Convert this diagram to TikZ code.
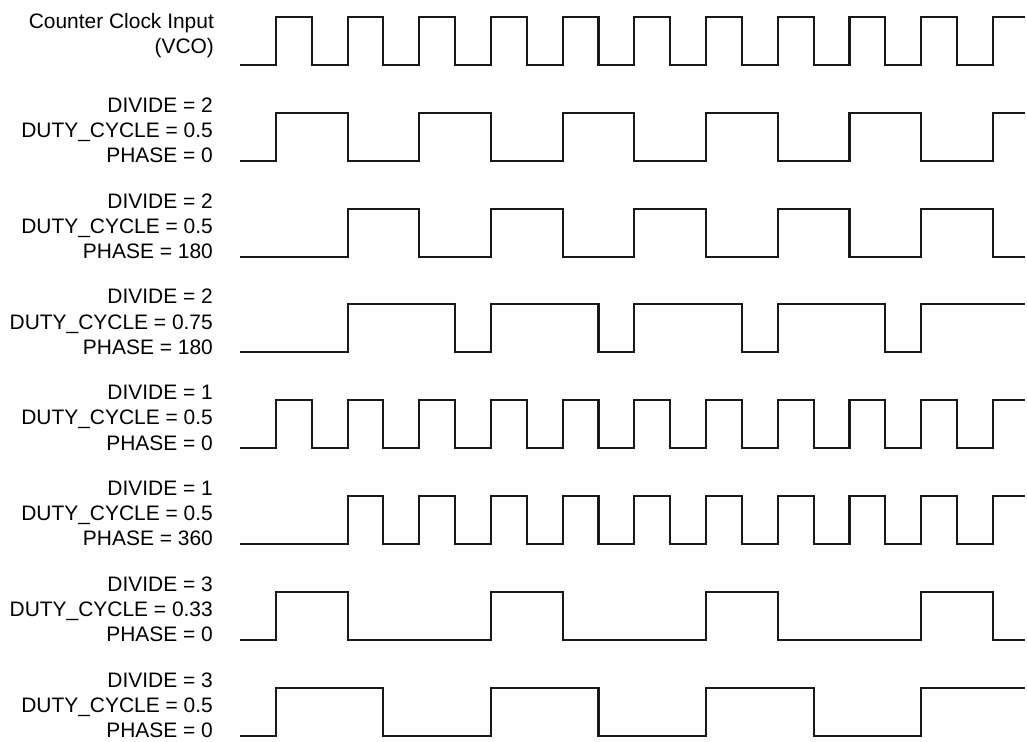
\documentclass[tikz,border=0pt]{standalone}
\usepackage{fontspec}
\setmainfont{Liberation Sans}
\tikzset{
  wave/.style={draw=black!90, line width=1.5pt, line join=miter},
  siglabel/.style={anchor=base east, align=right, inner sep=0pt,
                   font=\fontsize{14.9}{17.9}\selectfont},
  row/.style={x=0.8963cm, y=1.2cm, shift={(6cm,#1)}},
}
\begin{document}
\begin{tikzpicture}

\useasboundingbox (0,0) rectangle (25.675,18.55);

% Counter clock input
\begin{scope}[row=16.925cm]
\node[siglabel] (vco) at (-0.72,0.23) {Counter Clock Input\\(VCO)};
\draw[wave] (0,0) \foreach \k in {1,3,...,19} { -| (\k,1) -| ({\k+1},0) } -| (21,1) -- (21.9,1);
\end{scope}

% Divide by 2
\begin{scope}[row=14.53cm]
\node[siglabel] (dtwo) at (-0.75,-0.04) {DIVIDE = 2\\DUTY\_CYCLE = 0.5\\PHASE = 0};
\draw[wave] (0,0) \foreach \k in {1,5,...,17} { -| (\k,1) -| ({\k+2},0) } -| (21,1) -- (21.9,1);
\end{scope}

\begin{scope}[row=12.135cm]
\node[siglabel] (dtwoshift) at (-0.75,-0.04) {DIVIDE = 2\\DUTY\_CYCLE = 0.5\\PHASE = 180};
\draw[wave] (0,0) \foreach \k in {3,7,...,19} { -| (\k,1) -| ({\k+2},0) } -- (21.9,0);
\end{scope}

\begin{scope}[row=9.74cm]
\node[siglabel] (dtwoduty) at (-0.75,-0.04) {DIVIDE = 2\\DUTY\_CYCLE = 0.75\\PHASE = 180};
\draw[wave] (0,0) \foreach \k in {3,7,11,15} { -| (\k,1) -| ({\k+3},0) } -| (19,1) -- (21.9,1);
\end{scope}

% Divide by 1
\begin{scope}[row=7.345cm]
\node[siglabel] (done) at (-0.75,-0.04) {DIVIDE = 1\\DUTY\_CYCLE = 0.5\\PHASE = 0};
\draw[wave] (0,0) \foreach \k in {1,3,...,19} { -| (\k,1) -| ({\k+1},0) } -| (21,1) -- (21.9,1);
\end{scope}

\begin{scope}[row=4.95cm]
\node[siglabel] (doneshift) at (-0.75,-0.04) {DIVIDE = 1\\DUTY\_CYCLE = 0.5\\PHASE = 360};
\draw[wave] (0,0) \foreach \k in {3,5,...,19} { -| (\k,1) -| ({\k+1},0) } -| (21,1) -- (21.9,1);
\end{scope}

% Divide by 3
\begin{scope}[row=2.555cm]
\node[siglabel] (dthree) at (-0.75,-0.04) {DIVIDE = 3\\DUTY\_CYCLE = 0.33\\PHASE = 0};
\draw[wave] (0,0) \foreach \k in {1,7,13,19} { -| (\k,1) -| ({\k+2},0) } -- (21.9,0);
\end{scope}

\begin{scope}[row=0.16cm]
\node[siglabel] (dthreehalf) at (-0.75,-0.04) {DIVIDE = 3\\DUTY\_CYCLE = 0.5\\PHASE = 0};
\draw[wave] (0,0) \foreach \k in {1,7,13} { -| (\k,1) -| ({\k+3},0) } -| (19,1) -- (21.9,1);
\end{scope}

\end{tikzpicture}
\end{document}
